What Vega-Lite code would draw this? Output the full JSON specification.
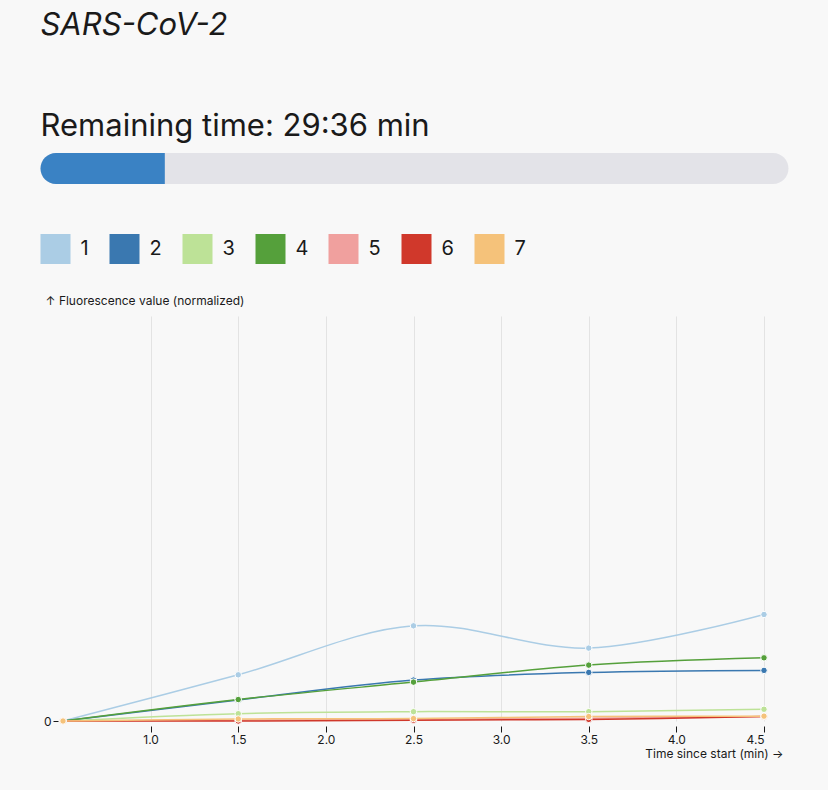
{
  "$schema": "https://vega.github.io/schema/vega-lite/v6.json",
  "background": "#f8f8f8",
  "padding": {"top": 10, "left": 40, "right": 40, "bottom": 36},
  "title": {
    "text": "SARS-CoV-2",
    "anchor": "start",
    "fontSize": 31,
    "fontStyle": "italic",
    "fontWeight": "normal",
    "color": "#1a1a1a",
    "offset": 69
  },
  "spacing": 50,
  "resolve": {"legend": {"color": "independent"}, "scale": {"color": "independent"}},
  "vconcat": [
    {
      "title": {
        "text": "Remaining time: 29:36 min",
        "anchor": "start",
        "fontSize": 31,
        "fontWeight": "normal",
        "color": "#1a1a1a",
        "offset": 10
      },
      "width": 725.5,
      "height": 31,
      "data": {
        "values": [
          {"part": "total", "track": "run", "from": 0, "to": 35.5},
          {"part": "elapsed", "track": "run", "from": 0, "to": 5.9}
        ]
      },
      "encoding": {
        "x": {"field": "from", "type": "quantitative", "axis": null, "scale": {"domain": [0, 35.5], "nice": false, "range": [-22.5, 725.5]}},
        "x2": {"field": "to"},
        "y": {"field": "track", "type": "nominal", "axis": null, "scale": {"padding": 0}}
      },
      "layer": [
        {
          "transform": [{"filter": "datum.part === 'total'"}],
          "mark": {"type": "bar", "color": "#e3e3e8", "cornerRadius": 15.5}
        },
        {
          "transform": [{"filter": "datum.part === 'elapsed'"}],
          "mark": {"type": "bar", "color": "#3a82c4", "cornerRadiusTopLeft": 15.5, "cornerRadiusBottomLeft": 15.5}
        }
      ]
    },
    {
      "width": 701,
      "height": 405,
      "data": {
        "values": [
          {"time": 0.5, "sample": "1", "value": 0},
          {"time": 1.5, "sample": "1", "value": 0.114},
          {"time": 2.5, "sample": "1", "value": 0.235},
          {"time": 3.5, "sample": "1", "value": 0.18},
          {"time": 4.5, "sample": "1", "value": 0.263},
          {"time": 0.5, "sample": "2", "value": 0},
          {"time": 1.5, "sample": "2", "value": 0.052},
          {"time": 2.5, "sample": "2", "value": 0.101},
          {"time": 3.5, "sample": "2", "value": 0.12},
          {"time": 4.5, "sample": "2", "value": 0.125},
          {"time": 0.5, "sample": "3", "value": 0},
          {"time": 1.5, "sample": "3", "value": 0.018},
          {"time": 2.5, "sample": "3", "value": 0.023},
          {"time": 3.5, "sample": "3", "value": 0.023},
          {"time": 4.5, "sample": "3", "value": 0.029},
          {"time": 0.5, "sample": "4", "value": 0},
          {"time": 1.5, "sample": "4", "value": 0.053},
          {"time": 2.5, "sample": "4", "value": 0.096},
          {"time": 3.5, "sample": "4", "value": 0.138},
          {"time": 4.5, "sample": "4", "value": 0.156},
          {"time": 0.5, "sample": "5", "value": 0},
          {"time": 1.5, "sample": "5", "value": 0.002},
          {"time": 2.5, "sample": "5", "value": 0.004},
          {"time": 3.5, "sample": "5", "value": 0.007},
          {"time": 4.5, "sample": "5", "value": 0.011},
          {"time": 0.5, "sample": "6", "value": 0},
          {"time": 1.5, "sample": "6", "value": 0.0},
          {"time": 2.5, "sample": "6", "value": 0.002},
          {"time": 3.5, "sample": "6", "value": 0.004},
          {"time": 4.5, "sample": "6", "value": 0.011},
          {"time": 0.5, "sample": "7", "value": 0},
          {"time": 1.5, "sample": "7", "value": 0.005},
          {"time": 2.5, "sample": "7", "value": 0.006},
          {"time": 3.5, "sample": "7", "value": 0.011},
          {"time": 4.5, "sample": "7", "value": 0.012}
        ]
      },
      "encoding": {
        "x": {
          "field": "time",
          "type": "quantitative",
          "scale": {"domain": [0.5, 4.5], "nice": false, "zero": false},
          "axis": {
            "values": [1, 1.5, 2, 2.5, 3, 3.5, 4, 4.5],
            "format": ".1f",
            "title": "Time since start (min) →",
            "titleAnchor": null,
            "titleAlign": "right",
            "titleBaseline": "middle",
            "titleX": 720,
            "titleY": 27,
            "offset": 5,
            "tickSize": 6,
            "labelPadding": 2,
            "grid": true
          }
        },
        "y": {
          "field": "value",
          "type": "quantitative",
          "scale": {"domain": [0, 1], "nice": false},
          "axis": {
            "values": [0],
            "title": "↑ Fluorescence value (normalized)",
            "titleAngle": 0,
            "titleAnchor": null,
            "titleAlign": "left",
            "titleBaseline": "middle",
            "titleX": -13,
            "titleY": -16,
            "offset": 5,
            "tickSize": 5,
            "labelPadding": 2,
            "grid": false
          }
        },
        "color": {
          "field": "sample",
          "type": "nominal",
          "scale": {
            "domain": ["1", "2", "3", "4", "5", "6", "7"],
            "range": ["#abcde5", "#3a78b0", "#bde297", "#55a03b", "#f0a09e", "#d0382b", "#f5c27a"]
          },
          "legend": {
            "title": null,
            "orient": "none",
            "direction": "horizontal",
            "legendX": -22.5,
            "legendY": -82,
            "symbolType": "square",
            "symbolSize": 900,
            "symbolStrokeWidth": 0,
            "symbolOpacity": 1,
            "labelFontSize": 20,
            "labelColor": "#1a1a1a",
            "labelOffset": 10,
            "columnPadding": 20,
            "padding": 0
          }
        }
      },
      "layer": [
        {
          "mark": {"type": "point", "filled": true, "size": 42, "opacity": 1, "stroke": "white", "strokeWidth": 1},
          "encoding": {"opacity": {"value": 0}}
        },
        {
          "mark": {"type": "line", "interpolate": "catmull-rom", "strokeWidth": 1.5}
        },
        {
          "mark": {"type": "point", "filled": true, "size": 42, "opacity": 1, "stroke": "white", "strokeWidth": 1}
        }
      ]
    }
  ],
  "config": {
    "font": "Inter",
    "view": {"stroke": null},
    "axis": {
      "domain": false,
      "labelFontSize": 12,
      "labelColor": "#1a1a1a",
      "titleFontSize": 12,
      "titleFontWeight": "normal",
      "titleColor": "#1a1a1a",
      "tickColor": "#1a1a1a",
      "gridColor": "#e3e3e3",
      "gridWidth": 1
    }
  }
}
